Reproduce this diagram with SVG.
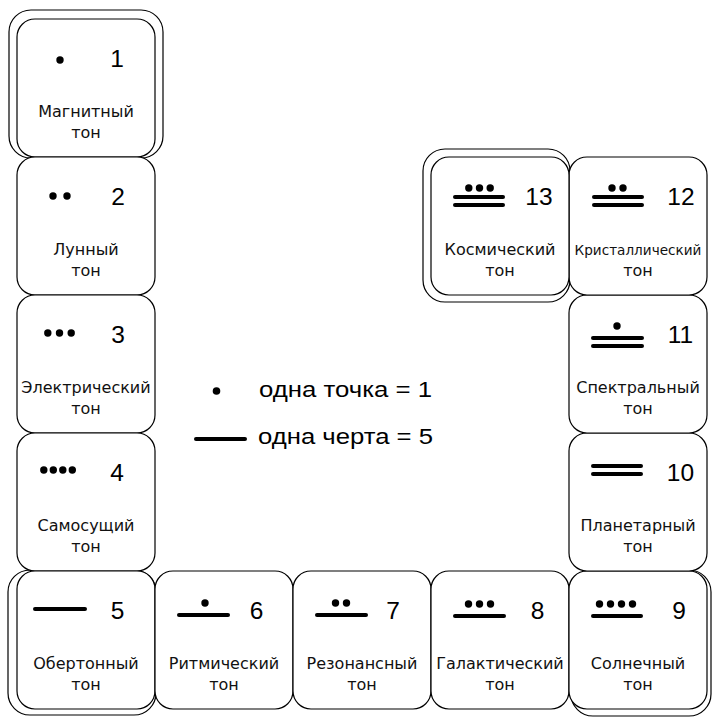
<svg xmlns="http://www.w3.org/2000/svg" width="712" height="717" viewBox="0 0 712 717">
<style>
.card{fill:#fff;stroke:#000;stroke-width:1.2}
.frame{fill:none;stroke:#000;stroke-width:1.2}
.num{font-family:"Liberation Sans",Arial,sans-serif;font-size:24.5px;fill:#000;text-anchor:middle}
.lbl{font-family:"DejaVu Sans",Verdana,sans-serif;font-size:16px;fill:#111;text-anchor:middle}
.lbl-s{font-size:13.6px}
.leg{font-family:"Liberation Sans",Arial,sans-serif;font-size:22px;fill:#000}
.dot{fill:#000}
.bar{stroke:#000;stroke-width:4;stroke-linecap:round;fill:none}
</style>
<rect width="712" height="717" fill="#fff"/>
<g id="frames">
<rect class="frame" x="9" y="10" width="154" height="148" rx="22"/>
<rect class="frame" x="423" y="149" width="147" height="153" rx="22"/>
<rect class="frame" x="8" y="570" width="148" height="145" rx="22"/>
<rect class="frame" x="571" y="570" width="140" height="146" rx="22"/>
</g>
<g id="card1">
<rect class="card" x="17" y="19" width="138" height="138" rx="18"/>
<circle class="dot" cx="60" cy="60" r="3.7"/>
<text class="num" x="117" y="67">1</text>
<text class="lbl" x="86" y="117">Магнитный</text>
<text class="lbl" x="86" y="138">тон</text>
</g>
<g id="card2">
<rect class="card" x="17" y="157" width="138" height="138" rx="18"/>
<circle class="dot" cx="53" cy="196" r="3.7"/>
<circle class="dot" cx="67" cy="196" r="3.7"/>
<text class="num" x="118" y="205">2</text>
<text class="lbl" x="86" y="255">Лунный</text>
<text class="lbl" x="86" y="276">тон</text>
</g>
<g id="card3">
<rect class="card" x="17" y="295" width="138" height="138" rx="18"/>
<circle class="dot" cx="47.8" cy="333" r="3.7"/>
<circle class="dot" cx="59.5" cy="333" r="3.7"/>
<circle class="dot" cx="71.2" cy="333" r="3.7"/>
<text class="num" x="118" y="343">3</text>
<text class="lbl" x="86" y="393">Электрический</text>
<text class="lbl" x="86" y="414">тон</text>
</g>
<g id="card4">
<rect class="card" x="17" y="433" width="138" height="138" rx="18"/>
<circle class="dot" cx="43.8" cy="470" r="3.7"/>
<circle class="dot" cx="53.3" cy="470" r="3.7"/>
<circle class="dot" cx="62.8" cy="470" r="3.7"/>
<circle class="dot" cx="72.3" cy="470" r="3.7"/>
<text class="num" x="117" y="481">4</text>
<text class="lbl" x="86" y="531">Самосущий</text>
<text class="lbl" x="86" y="552">тон</text>
</g>
<g id="card5">
<rect class="card" x="17" y="571" width="138" height="138" rx="18"/>
<line class="bar" x1="35" y1="609" x2="85" y2="609"/>
<text class="num" x="117.5" y="619">5</text>
<text class="lbl" x="86" y="669">Обертонный</text>
<text class="lbl" x="86" y="690">тон</text>
</g>
<g id="card6">
<rect class="card" x="155" y="571" width="138" height="138" rx="18"/>
<circle class="dot" cx="205" cy="603" r="3.7"/>
<line class="bar" x1="179" y1="615" x2="228" y2="615"/>
<text class="num" x="256.5" y="619">6</text>
<text class="lbl" x="224" y="669">Ритмический</text>
<text class="lbl" x="224" y="690">тон</text>
</g>
<g id="card7">
<rect class="card" x="293" y="571" width="138" height="138" rx="18"/>
<circle class="dot" cx="335.5" cy="603" r="3.7"/>
<circle class="dot" cx="346.5" cy="603" r="3.7"/>
<line class="bar" x1="317" y1="615" x2="366" y2="615"/>
<text class="num" x="393" y="619">7</text>
<text class="lbl" x="362" y="669">Резонансный</text>
<text class="lbl" x="362" y="690">тон</text>
</g>
<g id="card8">
<rect class="card" x="431" y="571" width="138" height="138" rx="18"/>
<circle class="dot" cx="468.5" cy="604" r="3.7"/>
<circle class="dot" cx="479.5" cy="604" r="3.7"/>
<circle class="dot" cx="490.5" cy="604" r="3.7"/>
<line class="bar" x1="455" y1="616" x2="504" y2="616"/>
<text class="num" x="537.5" y="619">8</text>
<text class="lbl" x="500" y="669">Галактический</text>
<text class="lbl" x="500" y="690">тон</text>
</g>
<g id="card9">
<rect class="card" x="569" y="571" width="138" height="138" rx="18"/>
<circle class="dot" cx="599.5" cy="604" r="3.7"/>
<circle class="dot" cx="610.5" cy="604" r="3.7"/>
<circle class="dot" cx="621.5" cy="604" r="3.7"/>
<circle class="dot" cx="632.5" cy="604" r="3.7"/>
<line class="bar" x1="593" y1="616" x2="641" y2="616"/>
<text class="num" x="679" y="619">9</text>
<text class="lbl" x="638" y="669">Солнечный</text>
<text class="lbl" x="638" y="690">тон</text>
</g>
<g id="card10">
<rect class="card" x="569" y="433" width="138" height="138" rx="18"/>
<line class="bar" x1="593" y1="466" x2="641" y2="466"/>
<line class="bar" x1="593" y1="474" x2="641" y2="474"/>
<text class="num" x="680.5" y="481">10</text>
<text class="lbl" x="638" y="531">Планетарный</text>
<text class="lbl" x="638" y="552">тон</text>
</g>
<g id="card11">
<rect class="card" x="569" y="295" width="138" height="138" rx="18"/>
<circle class="dot" cx="617" cy="326" r="3.7"/>
<line class="bar" x1="593" y1="338" x2="642" y2="338"/>
<line class="bar" x1="593" y1="346" x2="642" y2="346"/>
<text class="num" x="680.5" y="343">11</text>
<text class="lbl" x="638" y="393">Спектральный</text>
<text class="lbl" x="638" y="414">тон</text>
</g>
<g id="card12">
<rect class="card" x="569" y="157" width="138" height="138" rx="18"/>
<circle class="dot" cx="612" cy="188" r="3.7"/>
<circle class="dot" cx="623" cy="188" r="3.7"/>
<line class="bar" x1="594" y1="197" x2="642" y2="197"/>
<line class="bar" x1="594" y1="205" x2="642" y2="205"/>
<text class="num" x="681" y="205">12</text>
<text class="lbl lbl-s" x="638" y="255">Кристаллический</text>
<text class="lbl" x="638" y="276">тон</text>
</g>
<g id="card13">
<rect class="card" x="431" y="157" width="138" height="138" rx="18"/>
<circle class="dot" cx="468.8" cy="188" r="3.7"/>
<circle class="dot" cx="479.5" cy="188" r="3.7"/>
<circle class="dot" cx="490.2" cy="188" r="3.7"/>
<line class="bar" x1="455" y1="197" x2="503" y2="197"/>
<line class="bar" x1="455" y1="205" x2="503" y2="205"/>
<text class="num" x="539" y="205">13</text>
<text class="lbl" x="500" y="255">Космический</text>
<text class="lbl" x="500" y="276">тон</text>
</g>
<g id="legend">
<circle class="dot" cx="216.5" cy="391" r="3.8"/>
<text class="leg" x="259" y="397" textLength="173" lengthAdjust="spacingAndGlyphs">одна точка = 1</text>
<line class="bar" x1="196" y1="439" x2="245" y2="439"/>
<text class="leg" x="258" y="444" textLength="175" lengthAdjust="spacingAndGlyphs">одна черта = 5</text>
</g>
<g id="connectors"/>
</svg>
